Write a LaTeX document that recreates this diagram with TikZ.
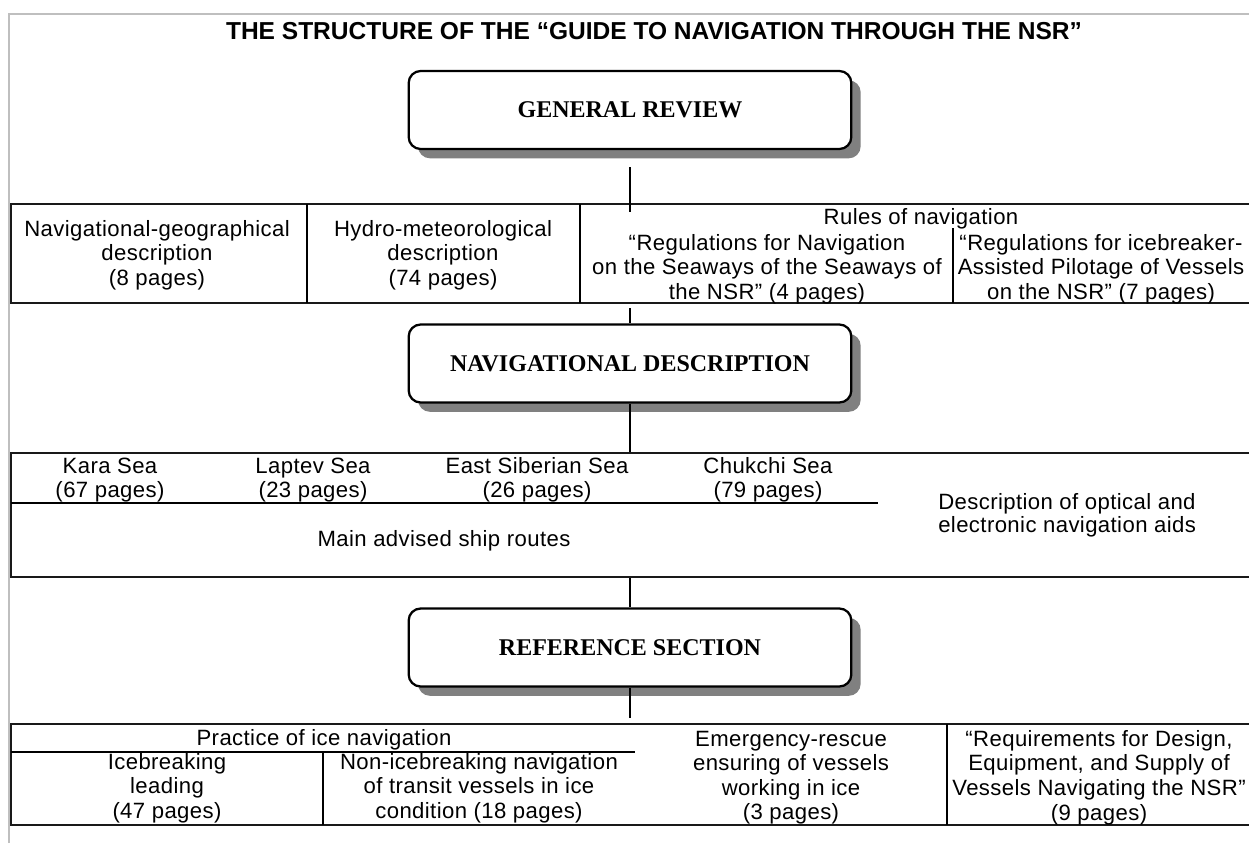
\documentclass[tikz,border=0pt]{standalone}
\usepackage{fontspec}
\setmainfont{Liberation Sans}
\newfontfamily\bodyfont{Liberation Sans}[LetterSpace=1.8]
\newfontfamily\boxfont{Liberation Serif}
\usetikzlibrary{shadows}
\begin{document}
\begin{tikzpicture}[x=0.75pt,y=-0.75pt,
  txt/.style={font=\bodyfont\fontsize{16.6}{18.4}\selectfont, align=center, inner sep=0pt},
  titletxt/.style={font=\bfseries\fontsize{18.4}{20}\selectfont, inner sep=0pt},
  secbox/.style={draw=black, line width=1.7pt, rounded corners=9pt, fill=white,
    minimum width=332pt, minimum height=58.5pt, inner sep=0pt,
    font=\boxfont\bfseries\fontsize{18}{20}\selectfont,
    drop shadow={shadow xshift=7pt, shadow yshift=-7pt, fill=black!50, opacity=1}},
  heavy/.style={line width=1.7pt, draw=black!90},
  light/.style={line width=0.8pt, draw=black},
  conn/.style={line width=0.8pt, draw=black},
  frame/.style={line width=1.5pt, draw=black!25}]
\useasboundingbox (0,0) rectangle (1249,843);
\clip (0,0) rectangle (1249,843);
\fill[white] (0,0) rectangle (1249,843);
% page frame
\draw[frame] (9,843) -- (9,14) -- (1249,14);
% title
\node[titletxt] (title) at (654,31) {THE STRUCTURE OF THE “GUIDE TO NAVIGATION THROUGH THE NSR”};
% section boxes
\node[secbox] (gr) at (630,110) {GENERAL REVIEW};
\node[secbox] (nd) at (630,363.5) {NAVIGATIONAL DESCRIPTION};
\node[secbox] (rs) at (630,647.5) {REFERENCE SECTION};
% ---- table 1
\draw[heavy] (11,204) rectangle (1262,303);
\draw[light] (307,204) -- (307,303);
\draw[light] (580,204) -- (580,303);
\draw[light] (953,228) -- (953,303);
\node[txt] (t1a) at (157,255) {Navigational-geographical\\description\\(8 pages)};
\node[txt] (t1b) at (443,255) {Hydro-meteorological\\description\\(74 pages)};
\node[txt] (t1c) at (921,219) {Rules of navigation};
\node[txt] (t1d) at (767,269) {“Regulations for Navigation\\on the Seaways of the Seaways of\\the NSR” (4 pages)};
\node[txt] (t1e) at (1101,269) {“Regulations for icebreaker-\\Assisted Pilotage of Vessels\\on the NSR” (7 pages)};
% ---- table 2
\draw[heavy] (11,453) rectangle (1262,577);
\draw[light] (11,503) -- (878,503);
\node[txt] (kara) at (110,480) {Kara Sea\\(67 pages)};
\node[txt] (lapt) at (313,480) {Laptev Sea\\(23 pages)};
\node[txt] (esib) at (537,480) {East Siberian Sea\\(26 pages)};
\node[txt] (chuk) at (768,480) {Chukchi Sea\\(79 pages)};
\node[txt] (routes) at (444,541) {Main advised ship routes};
\node[txt, align=left, anchor=west, font=\bodyfont\fontsize{16.6}{17.3}\selectfont] (aids) at (938,515) {Description of optical and\\electronic navigation aids};
% ---- table 3
\draw[heavy] (11,724) rectangle (1262,825);
\draw[light] (11,752) -- (635,752);
\draw[light] (323,752) -- (323,825);
\draw[light] (947,724) -- (947,825);
\node[txt] (prac) at (324,740) {Practice of ice navigation};
\node[txt] (iceb) at (167,788) {Icebreaking\\leading\\(47 pages)};
\node[txt] (noni) at (479,788) {Non-icebreaking navigation\\of transit vessels in ice\\condition (18 pages)};
\node[txt] (emer) at (791,777.5) {Emergency-rescue\\ensuring of vessels\\working in ice\\(3 pages)};
\node[txt] (reqs) at (1099,777.5) {“Requirements for Design,\\Equipment, and Supply of\\Vessels Navigating the NSR”\\(9 pages)};
% connectors
\coordinate (c1a) at (630,167);
\coordinate (c1b) at (630,212);
\coordinate (c2a) at (630,308);
\coordinate (c3b) at (630,452);
\coordinate (c4a) at (630,578);
\coordinate (c5b) at (630,718);
\draw[conn] (c1a) -- (c1b);
\draw[conn] (c2a) -- (nd.north);
\draw[conn] (nd.south) -- (c3b);
\draw[conn] (c4a) -- (rs.north);
\draw[conn] (rs.south) -- (c5b);
\end{tikzpicture}
\end{document}
